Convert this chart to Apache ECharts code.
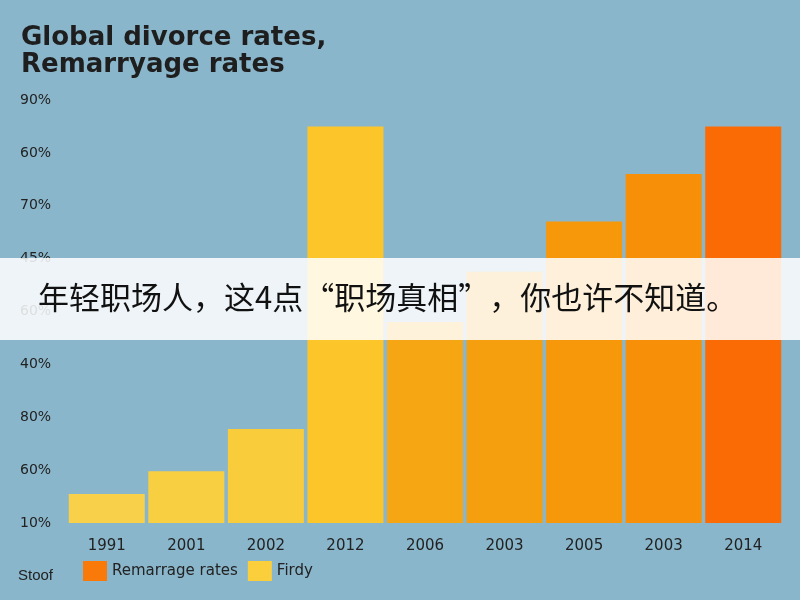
<!DOCTYPE html>
<html><head><meta charset="utf-8">
<script src="https://cdn.jsdelivr.net/npm/echarts@6/dist/echarts.min.js"></script>
<style>html,body{margin:0;padding:0;background:#8ab6cb}#c{width:800px;height:600px}</style>
</head><body><div id="c"></div>
<script>
const categories = ['1991','2001','2002','2012','2006','2003','2005','2003','2014'];
const firdyValues = [0.55, 0.98, 1.78, 7.5, null, null, null, null, null];
const remarrageValues = [null, null, null, null, 3.8, 4.75, 5.7, 6.6, 7.5];
const barColors = ['#f8d04a','#f9cf42','#f8cc3a','#fcc62a','#f5a612','#f69f0e','#f7980b','#f79008','#fb6b05'];
const yTickLabels = ['10%','60%','80%','40%','60%','45%','70%','60%','90%'];
const chart = echarts.init(document.getElementById('c'));
const mk = (vals) => vals.map((v,i)=> v==null ? '-' : {value:v, itemStyle:{color:barColors[i]}});
chart.setOption({
  backgroundColor:'#8ab6cb',
  textStyle:{fontFamily:'DejaVu Sans'},
  title:{text:'Global divorce rates,\nRemarryage rates',left:16,top:20,
    textStyle:{fontSize:26,fontWeight:'bold',color:'#1e1e1e',lineHeight:27,fontFamily:'DejaVu Sans'}},
  grid:{left:67,right:17,top:100,bottom:77},
  legend:{left:78,bottom:14,itemWidth:24,itemHeight:20,itemGap:10,icon:'rect',
    data:['Remarrage rates','Firdy'],textStyle:{fontSize:15,color:'#222'}},
  xAxis:{type:'category',data:categories,axisLine:{show:false},axisTick:{show:false},
    axisLabel:{fontSize:15,color:'#222',margin:16}},
  yAxis:{type:'value',min:0,max:8,interval:1,splitLine:{show:false},
    axisLabel:{fontSize:14,color:'#222',align:'left',margin:47,formatter:(v)=>yTickLabels[v]}},
  series:[
    {name:'Remarrage rates',type:'bar',stack:'a',barWidth:76,color:'#f97a08',data:mk(remarrageValues)},
    {name:'Firdy',type:'bar',stack:'a',barWidth:76,color:'#fbcf3c',data:mk(firdyValues)}
  ],
  graphic:[
    {type:'text',left:18,bottom:17,style:{text:'Stoof',fontSize:15,fill:'#222'}},
    {type:'rect',shape:{x:0,y:258,width:800,height:82},style:{fill:'rgba(255,255,255,0.85)'},z:100},
    {type:'text',left:38,top:282,z:101,style:{text:'年轻职场人，这4点“职场真相”，你也许不知道。',fontSize:31,fill:'#111',fontFamily:'Noto Sans CJK SC'}}
  ]
});
</script></body></html>
